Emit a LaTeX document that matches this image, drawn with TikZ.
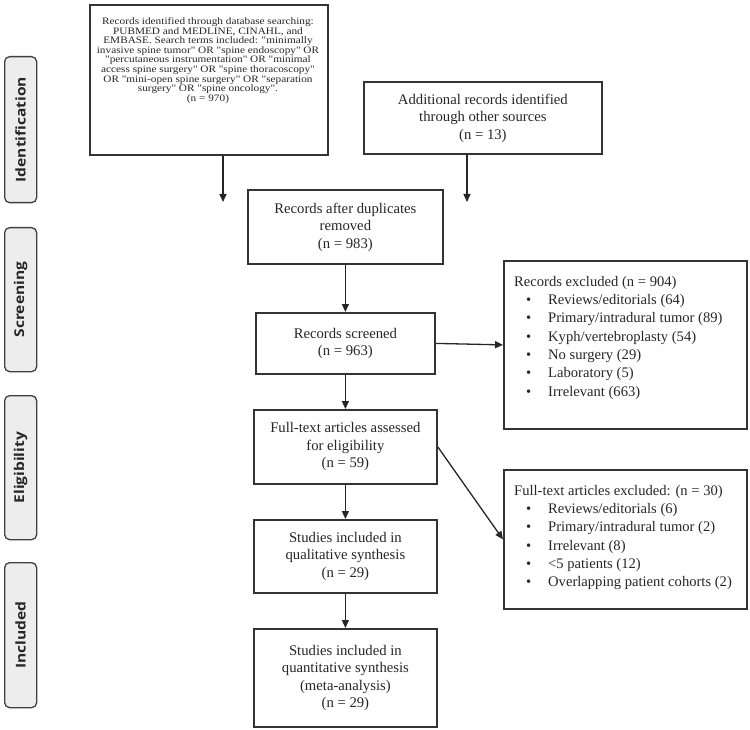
\documentclass[tikz,border=0pt]{standalone}
\usepackage{fontspec}
\setmainfont{Liberation Serif}
\newfontfamily\labelfont[FakeStretch=1.15]{Open Sans}
\newfontfamily\smallserif[FakeStretch=1.15]{Liberation Serif}
\usetikzlibrary{arrows.meta}
\newcommand{\pbul}{\makebox[34pt][l]{\hspace{12pt}\textbullet}}
\begin{document}
\begin{tikzpicture}[x=1pt,y=-1pt,
  box/.style={draw=black!80, line width=1.8pt, rectangle, inner sep=0pt, anchor=north west},
  phase/.style={draw=black!75, fill=black!7, line width=1.3pt, rounded corners=5pt, inner sep=0pt, anchor=north west, minimum width=32pt},
  phasetext/.style={rotate=90, font=\labelfont\bfseries\fontsize{13.5}{15}\selectfont, text=black!85, inner sep=0pt},
  arr/.style={line width=1.3pt, draw=black!85, -{Triangle[length=8pt,width=7pt]}},
  main/.style={font=\fontsize{14.7}{17.5}\selectfont, align=center, text=black!85, inner sep=0pt},
  listtext/.style={font=\fontsize{14.6}{18.3}\selectfont, align=left, text=black!85, inner sep=0pt, anchor=north west},
]
\useasboundingbox (0,0) rectangle (750,730);
% phase labels
\node[phase, minimum height=146pt] (P1) at (4,56) {};
\node[phasetext] (P1t) at (P1.center) {Identification};
\node[phase, minimum height=144pt] (P2) at (4,227) {};
\node[phasetext] (P2t) at (P2.center) {Screening};
\node[phase, minimum height=144pt] (P3) at (4,395) {};
\node[phasetext] (P3t) at (P3.center) {Eligibility};
\node[phase, minimum height=145pt] (P4) at (4,562) {};
\node[phasetext] (P4t) at (P4.center) {Included};
% boxes
\node[box, minimum width=238pt, minimum height=150pt] (B1) at (89,4) {};
\node[inner sep=0pt, anchor=north, align=center, text=black!85, font=\smallserif\fontsize{9.8}{9.6}\selectfont] (B1t) at (208,17.5)
 {Records identified through database searching:\\PUBMED and MEDLINE, CINAHL, and\\EMBASE. Search terms included: "minimally\\invasive spine tumor" OR "spine endoscopy" OR\\"percutaneous instrumentation" OR "minimal\\access spine surgery" OR "spine thoracoscopy"\\OR "mini-open spine surgery" OR "separation\\surgery" OR "spine oncology".\\(n = 970)};
\node[box, minimum width=238pt, minimum height=72pt] (B2) at (363,81) {};
\node[main] (B2t) at (B2.center) {Additional records identified\\through other sources\\(n = 13)};
\node[box, minimum width=195pt, minimum height=74pt] (B3) at (247,189) {};
\node[main] (B3t) at (B3.center) {Records after duplicates\\removed\\(n = 983)};
\node[box, minimum width=179pt, minimum height=61pt] (B4) at (255,312) {};
\node[main] (B4t) at (B4.center) {Records screened\\(n = 963)};
\node[box, minimum width=183pt, minimum height=74pt] (B5) at (253,409) {};
\node[main] (B5t) at (B5.center) {Full-text articles assessed\\for eligibility\\(n = 59)};
\node[box, minimum width=183pt, minimum height=73pt] (B6) at (253,519) {};
\node[main] (B6t) at (B6.center) {Studies included in\\qualitative synthesis\\(n = 29)};
\node[box, minimum width=183pt, minimum height=98pt] (B7) at (253,628) {};
\node[main] (B7t) at (B7.center) {Studies included in\\quantitative synthesis\\(meta-analysis)\\(n = 29)};
\node[box, minimum width=243pt, minimum height=168pt] (E1) at (503,260) {};
\node[listtext] (E1t) at (514,276) {Records excluded (n = 904)\\\pbul Reviews/editorials (64)\\\pbul Primary/intradural tumor (89)\\\pbul Kyph/vertebroplasty (54)\\\pbul No surgery (29)\\\pbul Laboratory (5)\\\pbul Irrelevant (663)};
\node[box, minimum width=243pt, minimum height=139pt] (E2) at (503,469) {};
\node[listtext] (E2t) at (514,485) {Full-text articles excluded: (n = 30)\\\pbul Reviews/editorials (6)\\\pbul Primary/intradural tumor (2)\\\pbul Irrelevant (8)\\\pbul <5 patients (12)\\\pbul Overlapping patient cohorts (2)};
% connectors
\coordinate (a1) at (223,202);
\coordinate (a2) at (467,202);
\draw[arr] (B1.south -| a1) -- (a1);
\draw[arr] (B2.south -| a2) -- (a2);
\draw[arr] (B3.south) -- (B4.north -| B3.south);
\draw[arr] (B4.east) -- (E1.west);
\draw[arr] (B4.south) -- (B5.north -| B4.south);
\draw[arr] (B5.east) -- (E2.west);
\draw[arr] (B5.south) -- (B6.north);
\draw[arr] (B6.south) -- (B7.north);
\end{tikzpicture}
\end{document}
